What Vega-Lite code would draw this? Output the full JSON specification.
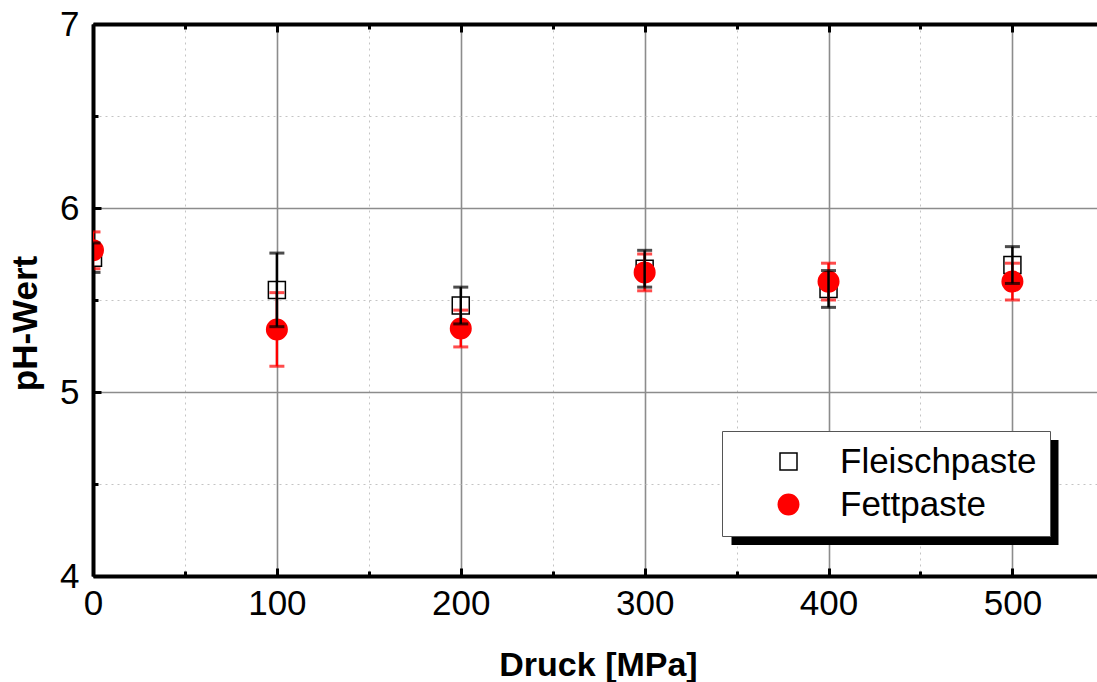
{
  "$schema": "https://vega.github.io/schema/vega-lite/v6.json",
  "width": 1004,
  "height": 552,
  "autosize": "none",
  "padding": {"left": 93, "top": 24, "right": 0, "bottom": 106},
  "background": "white",
  "config": {
    "font": "Liberation Sans",
    "view": {"stroke": null},
    "legend": {
      "orient": "none",
      "legendX": 629,
      "legendY": 407,
      "fillColor": "white",
      "strokeColor": "#555555",
      "strokeWidth": 1,
      "padding": 13,
      "labelFontSize": 35,
      "labelColor": "black",
      "labelFont": "Liberation Sans",
      "labelLimit": 500,
      "symbolOffset": 36,
      "labelOffset": 34,
      "rowPadding": 7,
      "symbolStrokeWidth": 1.5
    }
  },
  "data": {
    "values": [
      {"p": 0, "series": "Fleischpaste", "mean": 5.73, "err": 0.08},
      {"p": 100, "series": "Fleischpaste", "mean": 5.555, "err": 0.2},
      {"p": 200, "series": "Fleischpaste", "mean": 5.47, "err": 0.1},
      {"p": 300, "series": "Fleischpaste", "mean": 5.67, "err": 0.1},
      {"p": 400, "series": "Fleischpaste", "mean": 5.56, "err": 0.1},
      {"p": 500, "series": "Fleischpaste", "mean": 5.69, "err": 0.1},
      {"p": 0, "series": "Fettpaste", "mean": 5.77, "err": 0.1},
      {"p": 100, "series": "Fettpaste", "mean": 5.34, "err": 0.2},
      {"p": 200, "series": "Fettpaste", "mean": 5.345, "err": 0.1},
      {"p": 300, "series": "Fettpaste", "mean": 5.65, "err": 0.1},
      {"p": 400, "series": "Fettpaste", "mean": 5.6, "err": 0.1},
      {"p": 500, "series": "Fettpaste", "mean": 5.6, "err": 0.1}
    ]
  },
  "resolve": {"axis": {"x": "independent", "y": "independent"}},
  "layer": [
    {
      "mark": {"type": "point", "filled": true, "opacity": 1, "strokeWidth": 1.5, "clip": true},
      "encoding": {
        "x": {
          "field": "p", "type": "quantitative",
          "scale": {"domain": [0, 546], "nice": false, "zero": false},
          "axis": {
            "orient": "bottom",
            "values": [0, 50, 100, 150, 200, 250, 300, 350, 400, 450, 500],
            "labelExpr": "datum.value % 100 === 0 ? datum.label : ''",
            "labelFontSize": 35,
            "labelColor": "black",
            "labelPadding": 18,
            "labelFlush": false,
            "domainColor": "black",
            "domainWidth": 4,
            "tickColor": "black",
            "tickWidth": 3,
            "tickSize": {"condition": {"test": "datum.value % 100 === 0", "value": -8}, "value": -5},
            "grid": true,
            "gridColor": {"condition": {"test": "datum.value % 100 === 0", "value": "#8c8c8c"}, "value": "#c4c4c4"},
            "gridWidth": {"condition": {"test": "datum.value % 100 === 0", "value": 1.6}, "value": 1},
            "gridDash": {"condition": {"test": "datum.value % 100 === 0", "value": []}, "value": [2, 4]},
            "title": "Druck [MPa]",
            "titleFontSize": 34,
            "titleFontWeight": "bold",
            "titleColor": "black",
            "titlePadding": 27,
            "titleX": 505
          }
        },
        "y": {
          "field": "mean", "type": "quantitative",
          "scale": {"domain": [4, 7], "nice": false, "zero": false},
          "axis": {
            "orient": "left",
            "values": [4, 4.5, 5, 5.5, 6, 6.5, 7],
            "labelExpr": "datum.value % 1 === 0 ? format(datum.value, 'd') : ''",
            "labelFontSize": 35,
            "labelColor": "black",
            "labelPadding": 22,
            "labelFlush": false,
            "domainColor": "black",
            "domainWidth": 4,
            "tickColor": "black",
            "tickWidth": 3,
            "tickSize": {"condition": {"test": "datum.value % 1 === 0", "value": -8}, "value": -5},
            "grid": true,
            "gridColor": {"condition": {"test": "datum.value % 1 === 0", "value": "#8c8c8c"}, "value": "#c4c4c4"},
            "gridWidth": {"condition": {"test": "datum.value % 1 === 0", "value": 1.6}, "value": 1},
            "gridDash": {"condition": {"test": "datum.value % 1 === 0", "value": []}, "value": [2, 4]},
            "title": "pH-Wert",
            "titleFontSize": 35,
            "titleFontWeight": "bold",
            "titleColor": "black",
            "titlePadding": 16,
            "titleY": 299
          }
        },
        "shape": {
          "field": "series", "type": "nominal",
          "scale": {"domain": ["Fleischpaste", "Fettpaste"], "range": ["square", "circle"]},
          "legend": {"title": null, "zindex": 2}
        },
        "fill": {
          "field": "series", "type": "nominal",
          "scale": {"domain": ["Fleischpaste", "Fettpaste"], "range": ["white", "#ff0000"]},
          "legend": {"title": null, "zindex": 2}
        },
        "stroke": {
          "field": "series", "type": "nominal",
          "scale": {"domain": ["Fleischpaste", "Fettpaste"], "range": ["black", "#ff0000"]},
          "legend": {"title": null, "zindex": 2}
        },
        "size": {
          "field": "series", "type": "nominal",
          "scale": {"domain": ["Fleischpaste", "Fettpaste"], "range": [289, 420]},
          "legend": {"title": null, "zindex": 2}
        }
      }
    },
    {
      "transform": [{"filter": "datum.series === 'Fettpaste'"}],
      "mark": {"type": "errorbar", "color": "#ff0000", "clip": true, "ticks": {"size": 15, "thickness": 3}, "rule": {"strokeWidth": 2.5}},
      "encoding": {
        "x": {"field": "p", "type": "quantitative", "axis": null},
        "y": {"field": "mean", "type": "quantitative", "axis": null},
        "yError": {"field": "err"}
      }
    },
    {
      "transform": [{"filter": "datum.series === 'Fleischpaste'"}],
      "mark": {"type": "errorbar", "color": "black", "clip": true, "ticks": {"size": 15, "thickness": 3}, "rule": {"strokeWidth": 2.5}},
      "encoding": {
        "x": {"field": "p", "type": "quantitative", "axis": null},
        "y": {"field": "mean", "type": "quantitative", "axis": null},
        "yError": {"field": "err"}
      }
    },
    {
      "mark": {"type": "point", "filled": true, "color": "black", "opacity": 0},
      "encoding": {
        "x": {
          "field": "p", "type": "quantitative",
          "axis": {
            "orient": "top",
            "values": [0, 50, 100, 150, 200, 250, 300, 350, 400, 450, 500],
            "labels": false,
            "grid": false,
            "title": null,
            "domainColor": "black",
            "domainWidth": 4,
            "tickColor": "black",
            "tickWidth": 3,
            "tickSize": {"condition": {"test": "datum.value % 100 === 0", "value": -8}, "value": -5}
          }
        },
        "y": {"field": "mean", "type": "quantitative", "axis": null},
        "strokeDash": {
          "field": "series", "type": "nominal",
          "legend": {
            "title": null,
            "zindex": 1,
            "legendX": 638.5,
            "legendY": 305,
            "padding": 0,
            "rowPadding": 500,
            "fillColor": "transparent",
            "strokeColor": "transparent",
            "strokeWidth": 0,
            "labelExpr": "''",
            "labelOffset": 0,
            "symbolOffset": 0,
            "symbolOpacity": 1,
            "symbolFillColor": "black",
            "symbolStrokeColor": "black",
            "symbolStrokeWidth": 0,
            "symbolDash": [],
            "symbolType": "M-1,-0.3211H1V0.3211H-1Z",
            "symbolSize": 106929
          }
        }
      }
    }
  ]
}
